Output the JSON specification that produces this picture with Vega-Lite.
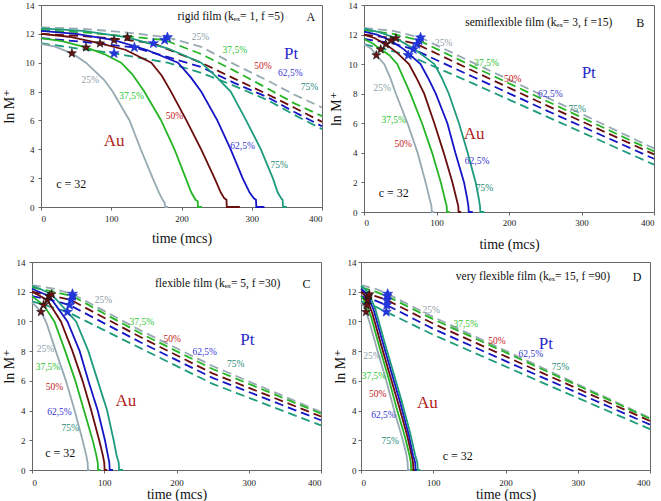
{
"$schema": "https://vega.github.io/schema/vega-lite/v6.json",
"background": "white",
"padding": {"left": 1, "top": 0, "right": 0, "bottom": 0},
"datasets": {
"au": [
{"p":"A","c":"c25","t":0,"v":11.3},{"p":"A","c":"c25","t":20,"v":11.12},{"p":"A","c":"c25","t":44,"v":10.65},{"p":"A","c":"c25","t":64,"v":10.0},{"p":"A","c":"c25","t":90,"v":8.8},{"p":"A","c":"c25","t":102,"v":8.0},{"p":"A","c":"c25","t":126,"v":6.0},{"p":"A","c":"c25","t":142,"v":4.0},{"p":"A","c":"c25","t":159,"v":2.0},{"p":"A","c":"c25","t":168,"v":1.0},{"p":"A","c":"c25","t":173,"v":0.5},{"p":"A","c":"c25","t":176,"v":0.3},{"p":"A","c":"c25","t":176.5,"v":0},{"p":"A","c":"c25","t":181,"v":0},
{"p":"A","c":"c37","t":0,"v":11.7},{"p":"A","c":"c37","t":30,"v":11.5},{"p":"A","c":"c37","t":64,"v":11.06},{"p":"A","c":"c37","t":90,"v":10.6},{"p":"A","c":"c37","t":114,"v":10.0},{"p":"A","c":"c37","t":130,"v":9.2},{"p":"A","c":"c37","t":147,"v":8.0},{"p":"A","c":"c37","t":171,"v":6.0},{"p":"A","c":"c37","t":190,"v":4.0},{"p":"A","c":"c37","t":206,"v":2.0},{"p":"A","c":"c37","t":214,"v":1.0},{"p":"A","c":"c37","t":220,"v":0.5},{"p":"A","c":"c37","t":223,"v":0.4},{"p":"A","c":"c37","t":223.5,"v":0},{"p":"A","c":"c37","t":229,"v":0},
{"p":"A","c":"c50","t":0,"v":12.0},{"p":"A","c":"c50","t":40,"v":11.8},{"p":"A","c":"c50","t":84,"v":11.34},{"p":"A","c":"c50","t":120,"v":10.9},{"p":"A","c":"c50","t":157,"v":10.0},{"p":"A","c":"c50","t":172,"v":9.1},{"p":"A","c":"c50","t":185,"v":8.0},{"p":"A","c":"c50","t":207,"v":6.0},{"p":"A","c":"c50","t":228,"v":4.0},{"p":"A","c":"c50","t":247,"v":2.0},{"p":"A","c":"c50","t":256,"v":1.0},{"p":"A","c":"c50","t":261,"v":0.6},{"p":"A","c":"c50","t":264,"v":0.5},{"p":"A","c":"c50","t":264.5,"v":0},{"p":"A","c":"c50","t":283,"v":0},
{"p":"A","c":"c62","t":0,"v":12.2},{"p":"A","c":"c62","t":50,"v":12.0},{"p":"A","c":"c62","t":104,"v":11.57},{"p":"A","c":"c62","t":150,"v":10.9},{"p":"A","c":"c62","t":195,"v":10.0},{"p":"A","c":"c62","t":213,"v":9.0},{"p":"A","c":"c62","t":228,"v":8.0},{"p":"A","c":"c62","t":251,"v":6.0},{"p":"A","c":"c62","t":270,"v":4.0},{"p":"A","c":"c62","t":287,"v":2.0},{"p":"A","c":"c62","t":297,"v":1.0},{"p":"A","c":"c62","t":303,"v":0.6},{"p":"A","c":"c62","t":306,"v":0.5},{"p":"A","c":"c62","t":306.5,"v":0},{"p":"A","c":"c62","t":318,"v":0},
{"p":"A","c":"c75","t":0,"v":12.38},{"p":"A","c":"c75","t":60,"v":12.2},{"p":"A","c":"c75","t":123,"v":11.76},{"p":"A","c":"c75","t":180,"v":11.0},{"p":"A","c":"c75","t":228,"v":10.0},{"p":"A","c":"c75","t":250,"v":9.0},{"p":"A","c":"c75","t":270,"v":8.0},{"p":"A","c":"c75","t":292,"v":6.0},{"p":"A","c":"c75","t":313,"v":4.0},{"p":"A","c":"c75","t":330,"v":2.0},{"p":"A","c":"c75","t":337,"v":1.0},{"p":"A","c":"c75","t":342,"v":0.6},{"p":"A","c":"c75","t":344,"v":0.5},{"p":"A","c":"c75","t":344.5,"v":0},{"p":"A","c":"c75","t":350,"v":0},
{"p":"B","c":"c25","t":0,"v":11.35},{"p":"B","c":"c25","t":10,"v":11.05},{"p":"B","c":"c25","t":17,"v":10.6},{"p":"B","c":"c25","t":28,"v":10.0},{"p":"B","c":"c25","t":36,"v":9.1},{"p":"B","c":"c25","t":44,"v":8.0},{"p":"B","c":"c25","t":60,"v":6.0},{"p":"B","c":"c25","t":74,"v":4.0},{"p":"B","c":"c25","t":85,"v":2.0},{"p":"B","c":"c25","t":90,"v":1.0},{"p":"B","c":"c25","t":93,"v":0.4},{"p":"B","c":"c25","t":93.5,"v":0},{"p":"B","c":"c25","t":97,"v":0},
{"p":"B","c":"c37","t":0,"v":11.7},{"p":"B","c":"c37","t":12,"v":11.4},{"p":"B","c":"c37","t":23,"v":11.0},{"p":"B","c":"c37","t":35,"v":10.6},{"p":"B","c":"c37","t":46,"v":10.0},{"p":"B","c":"c37","t":55,"v":9.0},{"p":"B","c":"c37","t":64,"v":8.0},{"p":"B","c":"c37","t":80,"v":6.0},{"p":"B","c":"c37","t":94,"v":4.0},{"p":"B","c":"c37","t":106,"v":2.0},{"p":"B","c":"c37","t":111,"v":1.0},{"p":"B","c":"c37","t":114,"v":0.4},{"p":"B","c":"c37","t":114.5,"v":0},{"p":"B","c":"c37","t":118,"v":0},
{"p":"B","c":"c50","t":0,"v":12.0},{"p":"B","c":"c50","t":15,"v":11.75},{"p":"B","c":"c50","t":30,"v":11.35},{"p":"B","c":"c50","t":45,"v":10.8},{"p":"B","c":"c50","t":62,"v":10.0},{"p":"B","c":"c50","t":72,"v":9.1},{"p":"B","c":"c50","t":83,"v":8.0},{"p":"B","c":"c50","t":97,"v":6.0},{"p":"B","c":"c50","t":110,"v":4.0},{"p":"B","c":"c50","t":122,"v":2.0},{"p":"B","c":"c50","t":127,"v":1.0},{"p":"B","c":"c50","t":130,"v":0.4},{"p":"B","c":"c50","t":130.5,"v":0},{"p":"B","c":"c50","t":134,"v":0},
{"p":"B","c":"c62","t":0,"v":12.2},{"p":"B","c":"c62","t":18,"v":12.0},{"p":"B","c":"c62","t":37,"v":11.6},{"p":"B","c":"c62","t":55,"v":11.0},{"p":"B","c":"c62","t":78,"v":10.0},{"p":"B","c":"c62","t":88,"v":9.1},{"p":"B","c":"c62","t":99,"v":8.0},{"p":"B","c":"c62","t":115,"v":6.0},{"p":"B","c":"c62","t":126,"v":4.0},{"p":"B","c":"c62","t":138,"v":2.0},{"p":"B","c":"c62","t":142,"v":1.0},{"p":"B","c":"c62","t":144,"v":0.4},{"p":"B","c":"c62","t":144.5,"v":0},{"p":"B","c":"c62","t":150,"v":0},
{"p":"B","c":"c75","t":0,"v":12.4},{"p":"B","c":"c75","t":22,"v":12.15},{"p":"B","c":"c75","t":44,"v":11.75},{"p":"B","c":"c75","t":70,"v":11.0},{"p":"B","c":"c75","t":97,"v":10.0},{"p":"B","c":"c75","t":107,"v":9.1},{"p":"B","c":"c75","t":117,"v":8.0},{"p":"B","c":"c75","t":131,"v":6.0},{"p":"B","c":"c75","t":143,"v":4.0},{"p":"B","c":"c75","t":154,"v":2.0},{"p":"B","c":"c75","t":158,"v":1.0},{"p":"B","c":"c75","t":160,"v":0.4},{"p":"B","c":"c75","t":160.5,"v":0},{"p":"B","c":"c75","t":166,"v":0},
{"p":"C","c":"c25","t":0,"v":11.27},{"p":"C","c":"c25","t":6,"v":11.0},{"p":"C","c":"c25","t":12.5,"v":10.64},{"p":"C","c":"c25","t":20,"v":9.9},{"p":"C","c":"c25","t":33,"v":8.0},{"p":"C","c":"c25","t":47,"v":6.0},{"p":"C","c":"c25","t":59,"v":4.0},{"p":"C","c":"c25","t":70,"v":2.0},{"p":"C","c":"c25","t":75,"v":1.0},{"p":"C","c":"c25","t":77,"v":0.5},{"p":"C","c":"c25","t":77.5,"v":0},{"p":"C","c":"c25","t":80,"v":0},
{"p":"C","c":"c37","t":0,"v":11.7},{"p":"C","c":"c37","t":8,"v":11.4},{"p":"C","c":"c37","t":16,"v":11.1},{"p":"C","c":"c37","t":31,"v":10.0},{"p":"C","c":"c37","t":46,"v":8.0},{"p":"C","c":"c37","t":60,"v":6.0},{"p":"C","c":"c37","t":72,"v":4.0},{"p":"C","c":"c37","t":84,"v":2.0},{"p":"C","c":"c37","t":89,"v":1.0},{"p":"C","c":"c37","t":91,"v":0.5},{"p":"C","c":"c37","t":91.5,"v":0},{"p":"C","c":"c37","t":95,"v":0},
{"p":"C","c":"c50","t":0,"v":12.0},{"p":"C","c":"c50","t":10,"v":11.75},{"p":"C","c":"c50","t":21,"v":11.44},{"p":"C","c":"c50","t":40,"v":10.0},{"p":"C","c":"c50","t":56,"v":8.0},{"p":"C","c":"c50","t":70,"v":6.0},{"p":"C","c":"c50","t":82,"v":4.0},{"p":"C","c":"c50","t":93,"v":2.0},{"p":"C","c":"c50","t":98,"v":1.0},{"p":"C","c":"c50","t":100,"v":0.5},{"p":"C","c":"c50","t":100.5,"v":0},{"p":"C","c":"c50","t":104,"v":0},
{"p":"C","c":"c62","t":0,"v":12.2},{"p":"C","c":"c62","t":12,"v":11.95},{"p":"C","c":"c62","t":24,"v":11.7},{"p":"C","c":"c62","t":49,"v":10.0},{"p":"C","c":"c62","t":66,"v":8.0},{"p":"C","c":"c62","t":78,"v":6.0},{"p":"C","c":"c62","t":91,"v":4.0},{"p":"C","c":"c62","t":101,"v":2.0},{"p":"C","c":"c62","t":105,"v":1.0},{"p":"C","c":"c62","t":107,"v":0.5},{"p":"C","c":"c62","t":107.5,"v":0},{"p":"C","c":"c62","t":112,"v":0},
{"p":"C","c":"c75","t":0,"v":12.4},{"p":"C","c":"c75","t":13,"v":12.15},{"p":"C","c":"c75","t":27,"v":11.83},{"p":"C","c":"c75","t":61,"v":10.0},{"p":"C","c":"c75","t":78,"v":8.0},{"p":"C","c":"c75","t":91,"v":6.0},{"p":"C","c":"c75","t":104,"v":4.0},{"p":"C","c":"c75","t":113,"v":2.0},{"p":"C","c":"c75","t":117,"v":1.0},{"p":"C","c":"c75","t":120,"v":0.5},{"p":"C","c":"c75","t":120.5,"v":0},{"p":"C","c":"c75","t":126,"v":0},
{"p":"D","c":"c25","t":0,"v":11.27},{"p":"D","c":"c25","t":4,"v":11.0},{"p":"D","c":"c25","t":7,"v":10.64},{"p":"D","c":"c25","t":11.5,"v":10.0},{"p":"D","c":"c25","t":23,"v":8.0},{"p":"D","c":"c25","t":35,"v":6.0},{"p":"D","c":"c25","t":46,"v":4.0},{"p":"D","c":"c25","t":58,"v":2.0},{"p":"D","c":"c25","t":63,"v":1.0},{"p":"D","c":"c25","t":64.5,"v":0.5},{"p":"D","c":"c25","t":65,"v":0},{"p":"D","c":"c25","t":68,"v":0},
{"p":"D","c":"c37","t":0,"v":11.7},{"p":"D","c":"c37","t":5,"v":11.4},{"p":"D","c":"c37","t":8,"v":11.1},{"p":"D","c":"c37","t":14,"v":10.3},{"p":"D","c":"c37","t":26,"v":8.2},{"p":"D","c":"c37","t":38,"v":6.2},{"p":"D","c":"c37","t":49,"v":4.2},{"p":"D","c":"c37","t":61,"v":2.2},{"p":"D","c":"c37","t":67,"v":1.0},{"p":"D","c":"c37","t":69,"v":0.5},{"p":"D","c":"c37","t":69.5,"v":0},{"p":"D","c":"c37","t":72,"v":0},
{"p":"D","c":"c50","t":0,"v":12.0},{"p":"D","c":"c50","t":6,"v":11.7},{"p":"D","c":"c50","t":9,"v":11.44},{"p":"D","c":"c50","t":16,"v":10.5},{"p":"D","c":"c50","t":28,"v":8.4},{"p":"D","c":"c50","t":40,"v":6.4},{"p":"D","c":"c50","t":52,"v":4.4},{"p":"D","c":"c50","t":64,"v":2.3},{"p":"D","c":"c50","t":70,"v":1.0},{"p":"D","c":"c50","t":72,"v":0.5},{"p":"D","c":"c50","t":72.5,"v":0},{"p":"D","c":"c50","t":75,"v":0},
{"p":"D","c":"c62","t":0,"v":12.2},{"p":"D","c":"c62","t":7,"v":11.9},{"p":"D","c":"c62","t":10,"v":11.7},{"p":"D","c":"c62","t":18,"v":10.7},{"p":"D","c":"c62","t":30,"v":8.6},{"p":"D","c":"c62","t":42,"v":6.6},{"p":"D","c":"c62","t":54,"v":4.6},{"p":"D","c":"c62","t":66,"v":2.4},{"p":"D","c":"c62","t":72,"v":1.0},{"p":"D","c":"c62","t":75,"v":0.5},{"p":"D","c":"c62","t":75.5,"v":0},{"p":"D","c":"c62","t":78,"v":0},
{"p":"D","c":"c75","t":0,"v":12.4},{"p":"D","c":"c75","t":7,"v":12.1},{"p":"D","c":"c75","t":11.5,"v":11.83},{"p":"D","c":"c75","t":20,"v":10.8},{"p":"D","c":"c75","t":32,"v":8.7},{"p":"D","c":"c75","t":44,"v":6.7},{"p":"D","c":"c75","t":56,"v":4.7},{"p":"D","c":"c75","t":68,"v":2.5},{"p":"D","c":"c75","t":75,"v":1.0},{"p":"D","c":"c75","t":78,"v":0.5},{"p":"D","c":"c75","t":78.5,"v":0},{"p":"D","c":"c75","t":82,"v":0}
],
"pt": [
{"p":"A","c":"c25","t":0,"v":12.45},{"p":"A","c":"c25","t":60,"v":12.35},{"p":"A","c":"c25","t":120,"v":12.1},{"p":"A","c":"c25","t":180,"v":11.76},{"p":"A","c":"c25","t":228,"v":11.1},{"p":"A","c":"c25","t":275,"v":9.9},{"p":"A","c":"c25","t":323,"v":8.75},{"p":"A","c":"c25","t":360,"v":7.8},{"p":"A","c":"c25","t":400,"v":6.9},
{"p":"A","c":"c37","t":0,"v":12.27},{"p":"A","c":"c37","t":60,"v":12.1},{"p":"A","c":"c37","t":120,"v":11.85},{"p":"A","c":"c37","t":176,"v":11.57},{"p":"A","c":"c37","t":228,"v":10.6},{"p":"A","c":"c37","t":275,"v":9.45},{"p":"A","c":"c37","t":323,"v":8.2},{"p":"A","c":"c37","t":360,"v":7.2},{"p":"A","c":"c37","t":400,"v":6.3},
{"p":"A","c":"c50","t":0,"v":12.0},{"p":"A","c":"c50","t":60,"v":11.85},{"p":"A","c":"c50","t":120,"v":11.6},{"p":"A","c":"c50","t":160,"v":11.34},{"p":"A","c":"c50","t":228,"v":10.0},{"p":"A","c":"c50","t":275,"v":8.9},{"p":"A","c":"c50","t":323,"v":7.8},{"p":"A","c":"c50","t":360,"v":6.9},{"p":"A","c":"c50","t":400,"v":5.9},
{"p":"A","c":"c62","t":0,"v":11.7},{"p":"A","c":"c62","t":60,"v":11.45},{"p":"A","c":"c62","t":133,"v":11.06},{"p":"A","c":"c62","t":180,"v":10.4},{"p":"A","c":"c62","t":228,"v":9.7},{"p":"A","c":"c62","t":275,"v":8.6},{"p":"A","c":"c62","t":323,"v":7.6},{"p":"A","c":"c62","t":360,"v":6.6},{"p":"A","c":"c62","t":400,"v":5.6},
{"p":"A","c":"c75","t":0,"v":11.35},{"p":"A","c":"c75","t":50,"v":11.0},{"p":"A","c":"c75","t":104,"v":10.65},{"p":"A","c":"c75","t":180,"v":10.0},{"p":"A","c":"c75","t":228,"v":9.3},{"p":"A","c":"c75","t":275,"v":8.4},{"p":"A","c":"c75","t":323,"v":7.4},{"p":"A","c":"c75","t":360,"v":6.4},{"p":"A","c":"c75","t":400,"v":5.4},
{"p":"B","c":"c25","t":0,"v":12.45},{"p":"B","c":"c25","t":40,"v":12.25},{"p":"B","c":"c25","t":78,"v":11.8},{"p":"B","c":"c25","t":150,"v":10.1},{"p":"B","c":"c25","t":250,"v":7.8},{"p":"B","c":"c25","t":400,"v":4.3},
{"p":"B","c":"c37","t":0,"v":12.3},{"p":"B","c":"c37","t":40,"v":12.05},{"p":"B","c":"c37","t":76,"v":11.6},{"p":"B","c":"c37","t":150,"v":9.85},{"p":"B","c":"c37","t":250,"v":7.55},{"p":"B","c":"c37","t":400,"v":4.1},
{"p":"B","c":"c50","t":0,"v":12.0},{"p":"B","c":"c50","t":40,"v":11.75},{"p":"B","c":"c50","t":73,"v":11.35},{"p":"B","c":"c50","t":150,"v":9.55},{"p":"B","c":"c50","t":250,"v":7.25},{"p":"B","c":"c50","t":400,"v":3.9},
{"p":"B","c":"c62","t":0,"v":11.7},{"p":"B","c":"c62","t":40,"v":11.4},{"p":"B","c":"c62","t":68,"v":11.0},{"p":"B","c":"c62","t":150,"v":9.15},{"p":"B","c":"c62","t":250,"v":6.9},{"p":"B","c":"c62","t":400,"v":3.6},
{"p":"B","c":"c75","t":0,"v":11.35},{"p":"B","c":"c75","t":30,"v":11.0},{"p":"B","c":"c75","t":61,"v":10.6},{"p":"B","c":"c75","t":150,"v":8.7},{"p":"B","c":"c75","t":250,"v":6.5},{"p":"B","c":"c75","t":400,"v":3.2},
{"p":"C","c":"c25","t":0,"v":12.45},{"p":"C","c":"c25","t":30,"v":12.2},{"p":"C","c":"c25","t":56,"v":11.85},{"p":"C","c":"c25","t":150,"v":9.4},{"p":"C","c":"c25","t":250,"v":7.0},{"p":"C","c":"c25","t":400,"v":3.9},
{"p":"C","c":"c37","t":0,"v":12.3},{"p":"C","c":"c37","t":30,"v":12.0},{"p":"C","c":"c37","t":56,"v":11.7},{"p":"C","c":"c37","t":150,"v":9.2},{"p":"C","c":"c37","t":250,"v":6.8},{"p":"C","c":"c37","t":400,"v":3.8},
{"p":"C","c":"c50","t":0,"v":12.0},{"p":"C","c":"c50","t":30,"v":11.7},{"p":"C","c":"c50","t":54,"v":11.44},{"p":"C","c":"c50","t":150,"v":8.95},{"p":"C","c":"c50","t":250,"v":6.5},{"p":"C","c":"c50","t":400,"v":3.6},
{"p":"C","c":"c62","t":0,"v":11.7},{"p":"C","c":"c62","t":30,"v":11.4},{"p":"C","c":"c62","t":52,"v":11.1},{"p":"C","c":"c62","t":150,"v":8.6},{"p":"C","c":"c62","t":250,"v":6.2},{"p":"C","c":"c62","t":400,"v":3.35},
{"p":"C","c":"c75","t":0,"v":11.35},{"p":"C","c":"c75","t":25,"v":11.0},{"p":"C","c":"c75","t":49,"v":10.64},{"p":"C","c":"c75","t":150,"v":8.2},{"p":"C","c":"c75","t":250,"v":5.8},{"p":"C","c":"c75","t":400,"v":3.0},
{"p":"D","c":"c25","t":0,"v":12.45},{"p":"D","c":"c25","t":20,"v":12.2},{"p":"D","c":"c25","t":37,"v":11.85},{"p":"D","c":"c25","t":100,"v":10.3},{"p":"D","c":"c25","t":250,"v":6.9},{"p":"D","c":"c25","t":400,"v":3.5},
{"p":"D","c":"c37","t":0,"v":12.3},{"p":"D","c":"c37","t":20,"v":12.0},{"p":"D","c":"c37","t":36,"v":11.7},{"p":"D","c":"c37","t":100,"v":10.15},{"p":"D","c":"c37","t":250,"v":6.8},{"p":"D","c":"c37","t":400,"v":3.45},
{"p":"D","c":"c50","t":0,"v":12.0},{"p":"D","c":"c50","t":20,"v":11.7},{"p":"D","c":"c50","t":36,"v":11.44},{"p":"D","c":"c50","t":100,"v":9.85},{"p":"D","c":"c50","t":250,"v":6.55},{"p":"D","c":"c50","t":400,"v":3.3},
{"p":"D","c":"c62","t":0,"v":11.7},{"p":"D","c":"c62","t":20,"v":11.4},{"p":"D","c":"c62","t":35.5,"v":11.1},{"p":"D","c":"c62","t":100,"v":9.5},{"p":"D","c":"c62","t":250,"v":6.25},{"p":"D","c":"c62","t":400,"v":3.05},
{"p":"D","c":"c75","t":0,"v":11.35},{"p":"D","c":"c75","t":20,"v":11.0},{"p":"D","c":"c75","t":35,"v":10.64},{"p":"D","c":"c75","t":100,"v":9.1},{"p":"D","c":"c75","t":250,"v":5.9},{"p":"D","c":"c75","t":400,"v":2.75}
],
"st": [
{"p":"A","m":"Au","t":44,"v":10.65},{"p":"A","m":"Au","t":64,"v":11.06},{"p":"A","m":"Au","t":84,"v":11.34},{"p":"A","m":"Au","t":104,"v":11.57},{"p":"A","m":"Au","t":123,"v":11.76},
{"p":"A","m":"Pt","t":104,"v":10.65},{"p":"A","m":"Pt","t":133,"v":11.06},{"p":"A","m":"Pt","t":160,"v":11.34},{"p":"A","m":"Pt","t":176,"v":11.57},{"p":"A","m":"Pt","t":180,"v":11.76},
{"p":"B","m":"Au","t":17,"v":10.6},{"p":"B","m":"Au","t":23,"v":11.0},{"p":"B","m":"Au","t":30,"v":11.35},{"p":"B","m":"Au","t":37,"v":11.6},{"p":"B","m":"Au","t":44,"v":11.75},
{"p":"B","m":"Pt","t":61,"v":10.6},{"p":"B","m":"Pt","t":68,"v":11.0},{"p":"B","m":"Pt","t":73,"v":11.35},{"p":"B","m":"Pt","t":76,"v":11.6},{"p":"B","m":"Pt","t":78,"v":11.8},
{"p":"C","m":"Au","t":12.5,"v":10.64},{"p":"C","m":"Au","t":16,"v":11.1},{"p":"C","m":"Au","t":21,"v":11.44},{"p":"C","m":"Au","t":24,"v":11.7},{"p":"C","m":"Au","t":27,"v":11.83},
{"p":"C","m":"Pt","t":49,"v":10.64},{"p":"C","m":"Pt","t":52,"v":11.1},{"p":"C","m":"Pt","t":54,"v":11.44},{"p":"C","m":"Pt","t":56,"v":11.7},{"p":"C","m":"Pt","t":56,"v":11.85},
{"p":"D","m":"Au","t":7,"v":10.64},{"p":"D","m":"Au","t":8,"v":11.1},{"p":"D","m":"Au","t":9,"v":11.44},{"p":"D","m":"Au","t":10,"v":11.7},{"p":"D","m":"Au","t":11.5,"v":11.83},
{"p":"D","m":"Pt","t":35,"v":10.64},{"p":"D","m":"Pt","t":35.5,"v":11.1},{"p":"D","m":"Pt","t":36,"v":11.44},{"p":"D","m":"Pt","t":36,"v":11.7},{"p":"D","m":"Pt","t":37,"v":11.85}
],
"lb": [
{"p":"A","s":"l25","t":70,"v":8.8,"txt":"25%"},{"p":"A","s":"l37","t":129,"v":7.7,"txt":"37,5%"},{"p":"A","s":"l50","t":190,"v":6.3,"txt":"50%"},{"p":"A","s":"l62","t":287,"v":4.2,"txt":"62,5%"},{"p":"A","s":"l75","t":339,"v":2.9,"txt":"75%"},
{"p":"A","s":"l25","t":227,"v":11.8,"txt":"25%"},{"p":"A","s":"l37","t":276,"v":10.9,"txt":"37,5%"},{"p":"A","s":"l50","t":316,"v":9.8,"txt":"50%"},{"p":"A","s":"l62","t":355,"v":9.26,"txt":"62,5%"},{"p":"A","s":"l75","t":382,"v":8.3,"txt":"75%"},
{"p":"B","s":"l25","t":25,"v":8.37,"txt":"25%"},{"p":"B","s":"l37","t":41,"v":6.23,"txt":"37,5%"},{"p":"B","s":"l50","t":54,"v":4.63,"txt":"50%"},{"p":"B","s":"l62","t":156,"v":3.45,"txt":"62,5%"},{"p":"B","s":"l75","t":166,"v":1.65,"txt":"75%"},
{"p":"B","s":"l25","t":110,"v":11.4,"txt":"25%"},{"p":"B","s":"l37","t":169,"v":10.1,"txt":"37,5%"},{"p":"B","s":"l50","t":205,"v":8.98,"txt":"50%"},{"p":"B","s":"l62","t":257,"v":7.97,"txt":"62,5%"},{"p":"B","s":"l75","t":294,"v":7.0,"txt":"75%"},
{"p":"C","s":"l25","t":18.5,"v":8.13,"txt":"25%"},{"p":"C","s":"l37","t":22,"v":6.9,"txt":"37,5%"},{"p":"C","s":"l50","t":31,"v":5.56,"txt":"50%"},{"p":"C","s":"l62","t":38,"v":3.92,"txt":"62,5%"},{"p":"C","s":"l75","t":53,"v":2.8,"txt":"75%"},
{"p":"C","s":"l25","t":99,"v":11.42,"txt":"25%"},{"p":"C","s":"l37","t":152,"v":9.97,"txt":"37,5%"},{"p":"C","s":"l50","t":194,"v":8.85,"txt":"50%"},{"p":"C","s":"l62","t":239,"v":7.95,"txt":"62,5%"},{"p":"C","s":"l75","t":282,"v":7.12,"txt":"75%"},
{"p":"D","s":"l25","t":15,"v":7.66,"txt":"25%"},{"p":"D","s":"l37","t":18,"v":6.3,"txt":"37,5%"},{"p":"D","s":"l50","t":23,"v":5.1,"txt":"50%"},{"p":"D","s":"l62","t":31,"v":3.7,"txt":"62,5%"},{"p":"D","s":"l75","t":40.5,"v":1.97,"txt":"75%"},
{"p":"D","s":"l25","t":97,"v":10.75,"txt":"25%"},{"p":"D","s":"l37","t":145,"v":9.8,"txt":"37,5%"},{"p":"D","s":"l50","t":188,"v":8.7,"txt":"50%"},{"p":"D","s":"l62","t":235,"v":7.8,"txt":"62,5%"},{"p":"D","s":"l75","t":276,"v":6.9,"txt":"75%"}
],
"tx": [
{"p":"A","k":"title","t":270,"v":13.15,"txt":"rigid film (kₑₓ= 1, f =5)"},{"p":"A","k":"letter","t":384,"v":13.15,"txt":"A"},{"p":"A","k":"au","t":104,"v":4.6,"txt":"Au"},{"p":"A","k":"pt","t":356,"v":10.6,"txt":"Pt"},{"p":"A","k":"c","t":43,"v":1.57,"txt":"c = 32"},
{"p":"B","k":"title","t":241,"v":12.75,"txt":"semiflexible film (kₑₓ= 3, f =15)"},{"p":"B","k":"letter","t":381,"v":12.75,"txt":"B"},{"p":"B","k":"au","t":152,"v":5.26,"txt":"Au"},{"p":"B","k":"pt","t":310,"v":9.37,"txt":"Pt"},{"p":"B","k":"c","t":41,"v":1.3,"txt":"c = 32"},
{"p":"C","k":"title","t":257,"v":12.5,"txt":"flexible film (kₑₓ= 5, f =30)"},{"p":"C","k":"letter","t":380,"v":12.5,"txt":"C"},{"p":"C","k":"au","t":130,"v":4.66,"txt":"Au"},{"p":"C","k":"pt","t":298,"v":8.78,"txt":"Pt"},{"p":"C","k":"c","t":39,"v":1.16,"txt":"c = 32"},
{"p":"D","k":"title","t":238,"v":13.0,"txt":"very flexible film (kₑₓ= 15, f =90)"},{"p":"D","k":"letter","t":382,"v":13.0,"txt":"D"},{"p":"D","k":"au","t":92,"v":4.5,"txt":"Au"},{"p":"D","k":"pt","t":256,"v":8.47,"txt":"Pt"},{"p":"D","k":"c","t":134,"v":0.94,"txt":"c = 32"}
]
},
"vconcat": [
{"hconcat": [
{"width": 1, "height": 1, "data": {"values": [{"a": 1}]}, "mark": {"type": "point", "opacity": 0}, "view": {"stroke": "transparent"}},
{"hconcat": [
{"width": 281, "height": 202,
 "encoding": {
  "x": {"field": "t", "type": "quantitative", "title": "time (mcs)", "scale": {"domain": [0, 400], "nice": false}, "axis": {"values": [0,100,200,300,400], "labelPadding": 4, "titlePadding": 8}},
  "y": {"field": "v", "type": "quantitative", "title": "ln M⁺", "scale": {"domain": [0, 14], "nice": false}, "axis": {"values": [0,2,4,6,8,10,12,14], "labelPadding": 4, "titlePadding": 9}}
 },
 "layer": [
  {"data": {"name": "pt"}, "transform": [{"filter": "datum.p==='A'"}], "mark": {"type": "line", "strokeWidth": 1.8, "strokeDash": [9, 5]},
   "encoding": {"color": {"field": "c", "type": "nominal", "legend": null, "scale": {"domain": ["c25","c37","c50","c62","c75","l25","l37","l50","l62","l75"], "range": ["#97a9b2","#25b525","#6a0d0d","#1515c5","#1e9b7d","#8e9ea8","#2ec42e","#c41a1a","#3535cf","#1d8a76"]}}}},
  {"data": {"name": "au"}, "transform": [{"filter": "datum.p==='A'"}], "mark": {"type": "line", "strokeWidth": 1.8},
   "encoding": {"color": {"field": "c", "type": "nominal", "legend": null, "scale": {"domain": ["c25","c37","c50","c62","c75","l25","l37","l50","l62","l75"], "range": ["#97a9b2","#25b525","#6a0d0d","#1515c5","#1e9b7d","#8e9ea8","#2ec42e","#c41a1a","#3535cf","#1d8a76"]}}}},
  {"data": {"name": "st"}, "transform": [{"filter": "datum.p==='A' && datum.m==='Au'"}], "mark": {"type": "point", "shape": "M0,-1L0.235,-0.324L0.951,-0.309L0.38,0.124L0.588,0.809L0,0.4L-0.588,0.809L-0.38,0.124L-0.951,-0.309L-0.235,-0.324Z", "filled": true, "fill": "#6a1414", "stroke": "#111", "strokeWidth": 0.6, "size": 90, "opacity": 1}},
  {"data": {"name": "st"}, "transform": [{"filter": "datum.p==='A' && datum.m==='Pt'"}], "mark": {"type": "point", "shape": "M0,-1L0.235,-0.324L0.951,-0.309L0.38,0.124L0.588,0.809L0,0.4L-0.588,0.809L-0.38,0.124L-0.951,-0.309L-0.235,-0.324Z", "filled": true, "fill": "#2238dd", "stroke": "#1a2acc", "strokeWidth": 0.6, "size": 110, "opacity": 1}},
  {"data": {"name": "lb"}, "transform": [{"filter": "datum.p==='A'"}], "mark": {"type": "text", "fontSize": 9.5},
   "encoding": {"text": {"field": "txt"}, "color": {"field": "s", "type": "nominal", "legend": null, "scale": {"domain": ["c25","c37","c50","c62","c75","l25","l37","l50","l62","l75"], "range": ["#97a9b2","#25b525","#6a0d0d","#1515c5","#1e9b7d","#8e9ea8","#2ec42e","#c41a1a","#3535cf","#1d8a76"]}}}},
  {"data": {"name": "tx"}, "transform": [{"filter": "datum.p==='A' && datum.k==='title'"}], "mark": {"type": "text", "fontSize": 11.5, "color": "#111"}, "encoding": {"text": {"field": "txt"}}},
  {"data": {"name": "tx"}, "transform": [{"filter": "datum.p==='A' && (datum.k==='letter' || datum.k==='c')"}], "mark": {"type": "text", "fontSize": 12, "color": "#111"}, "encoding": {"text": {"field": "txt"}}},
  {"data": {"name": "tx"}, "transform": [{"filter": "datum.p==='A' && datum.k==='au'"}], "mark": {"type": "text", "fontSize": 17, "color": "#b0241c"}, "encoding": {"text": {"field": "txt"}}},
  {"data": {"name": "tx"}, "transform": [{"filter": "datum.p==='A' && datum.k==='pt'"}], "mark": {"type": "text", "fontSize": 17, "color": "#2a2acb"}, "encoding": {"text": {"field": "txt"}}}
 ]},
{"width": 290, "height": 207,
 "encoding": {
  "x": {"field": "t", "type": "quantitative", "title": "time (mcs)", "scale": {"domain": [0, 400], "nice": false}, "axis": {"values": [0,100,200,300,400], "labelPadding": 3, "titlePadding": 10}},
  "y": {"field": "v", "type": "quantitative", "title": "ln M⁺", "scale": {"domain": [0, 14], "nice": false}, "axis": {"values": [0,2,4,6,8,10,12,14], "labelPadding": 4, "titlePadding": 5}}
 },
 "layer": [
  {"data": {"name": "pt"}, "transform": [{"filter": "datum.p==='B'"}], "mark": {"type": "line", "strokeWidth": 1.8, "strokeDash": [9, 5]},
   "encoding": {"color": {"field": "c", "type": "nominal", "legend": null, "scale": {"domain": ["c25","c37","c50","c62","c75","l25","l37","l50","l62","l75"], "range": ["#97a9b2","#25b525","#6a0d0d","#1515c5","#1e9b7d","#8e9ea8","#2ec42e","#c41a1a","#3535cf","#1d8a76"]}}}},
  {"data": {"name": "au"}, "transform": [{"filter": "datum.p==='B'"}], "mark": {"type": "line", "strokeWidth": 1.8},
   "encoding": {"color": {"field": "c", "type": "nominal", "legend": null, "scale": {"domain": ["c25","c37","c50","c62","c75","l25","l37","l50","l62","l75"], "range": ["#97a9b2","#25b525","#6a0d0d","#1515c5","#1e9b7d","#8e9ea8","#2ec42e","#c41a1a","#3535cf","#1d8a76"]}}}},
  {"data": {"name": "st"}, "transform": [{"filter": "datum.p==='B' && datum.m==='Au'"}], "mark": {"type": "point", "shape": "M0,-1L0.235,-0.324L0.951,-0.309L0.38,0.124L0.588,0.809L0,0.4L-0.588,0.809L-0.38,0.124L-0.951,-0.309L-0.235,-0.324Z", "filled": true, "fill": "#6a1414", "stroke": "#111", "strokeWidth": 0.6, "size": 90, "opacity": 1}},
  {"data": {"name": "st"}, "transform": [{"filter": "datum.p==='B' && datum.m==='Pt'"}], "mark": {"type": "point", "shape": "M0,-1L0.235,-0.324L0.951,-0.309L0.38,0.124L0.588,0.809L0,0.4L-0.588,0.809L-0.38,0.124L-0.951,-0.309L-0.235,-0.324Z", "filled": true, "fill": "#2238dd", "stroke": "#1a2acc", "strokeWidth": 0.6, "size": 110, "opacity": 1}},
  {"data": {"name": "lb"}, "transform": [{"filter": "datum.p==='B'"}], "mark": {"type": "text", "fontSize": 9.5},
   "encoding": {"text": {"field": "txt"}, "color": {"field": "s", "type": "nominal", "legend": null, "scale": {"domain": ["c25","c37","c50","c62","c75","l25","l37","l50","l62","l75"], "range": ["#97a9b2","#25b525","#6a0d0d","#1515c5","#1e9b7d","#8e9ea8","#2ec42e","#c41a1a","#3535cf","#1d8a76"]}}}},
  {"data": {"name": "tx"}, "transform": [{"filter": "datum.p==='B' && datum.k==='title'"}], "mark": {"type": "text", "fontSize": 11.5, "color": "#111"}, "encoding": {"text": {"field": "txt"}}},
  {"data": {"name": "tx"}, "transform": [{"filter": "datum.p==='B' && (datum.k==='letter' || datum.k==='c')"}], "mark": {"type": "text", "fontSize": 12, "color": "#111"}, "encoding": {"text": {"field": "txt"}}},
  {"data": {"name": "tx"}, "transform": [{"filter": "datum.p==='B' && datum.k==='au'"}], "mark": {"type": "text", "fontSize": 17, "color": "#b0241c"}, "encoding": {"text": {"field": "txt"}}},
  {"data": {"name": "tx"}, "transform": [{"filter": "datum.p==='B' && datum.k==='pt'"}], "mark": {"type": "text", "fontSize": 17, "color": "#2a2acb"}, "encoding": {"text": {"field": "txt"}}}
 ]}
], "spacing": 42, "bounds": "flush"}
], "spacing": 8, "bounds": "flush"},
{"hconcat": [
{"width": 289, "height": 208,
 "encoding": {
  "x": {"field": "t", "type": "quantitative", "title": "time (mcs)", "scale": {"domain": [0, 400], "nice": false}, "axis": {"values": [0,100,200,300,400], "labelPadding": 5, "titlePadding": 0}},
  "y": {"field": "v", "type": "quantitative", "title": "ln M⁺", "scale": {"domain": [0, 14], "nice": false}, "axis": {"values": [0,2,4,6,8,10,12,14], "labelPadding": 4, "titlePadding": 0}}
 },
 "layer": [
  {"data": {"name": "pt"}, "transform": [{"filter": "datum.p==='C'"}], "mark": {"type": "line", "strokeWidth": 1.8, "strokeDash": [9, 5]},
   "encoding": {"color": {"field": "c", "type": "nominal", "legend": null, "scale": {"domain": ["c25","c37","c50","c62","c75","l25","l37","l50","l62","l75"], "range": ["#97a9b2","#25b525","#6a0d0d","#1515c5","#1e9b7d","#8e9ea8","#2ec42e","#c41a1a","#3535cf","#1d8a76"]}}}},
  {"data": {"name": "au"}, "transform": [{"filter": "datum.p==='C'"}], "mark": {"type": "line", "strokeWidth": 1.8},
   "encoding": {"color": {"field": "c", "type": "nominal", "legend": null, "scale": {"domain": ["c25","c37","c50","c62","c75","l25","l37","l50","l62","l75"], "range": ["#97a9b2","#25b525","#6a0d0d","#1515c5","#1e9b7d","#8e9ea8","#2ec42e","#c41a1a","#3535cf","#1d8a76"]}}}},
  {"data": {"name": "st"}, "transform": [{"filter": "datum.p==='C' && datum.m==='Au'"}], "mark": {"type": "point", "shape": "M0,-1L0.235,-0.324L0.951,-0.309L0.38,0.124L0.588,0.809L0,0.4L-0.588,0.809L-0.38,0.124L-0.951,-0.309L-0.235,-0.324Z", "filled": true, "fill": "#6a1414", "stroke": "#111", "strokeWidth": 0.6, "size": 90, "opacity": 1}},
  {"data": {"name": "st"}, "transform": [{"filter": "datum.p==='C' && datum.m==='Pt'"}], "mark": {"type": "point", "shape": "M0,-1L0.235,-0.324L0.951,-0.309L0.38,0.124L0.588,0.809L0,0.4L-0.588,0.809L-0.38,0.124L-0.951,-0.309L-0.235,-0.324Z", "filled": true, "fill": "#2238dd", "stroke": "#1a2acc", "strokeWidth": 0.6, "size": 110, "opacity": 1}},
  {"data": {"name": "lb"}, "transform": [{"filter": "datum.p==='C'"}], "mark": {"type": "text", "fontSize": 9.5},
   "encoding": {"text": {"field": "txt"}, "color": {"field": "s", "type": "nominal", "legend": null, "scale": {"domain": ["c25","c37","c50","c62","c75","l25","l37","l50","l62","l75"], "range": ["#97a9b2","#25b525","#6a0d0d","#1515c5","#1e9b7d","#8e9ea8","#2ec42e","#c41a1a","#3535cf","#1d8a76"]}}}},
  {"data": {"name": "tx"}, "transform": [{"filter": "datum.p==='C' && datum.k==='title'"}], "mark": {"type": "text", "fontSize": 11.5, "color": "#111"}, "encoding": {"text": {"field": "txt"}}},
  {"data": {"name": "tx"}, "transform": [{"filter": "datum.p==='C' && (datum.k==='letter' || datum.k==='c')"}], "mark": {"type": "text", "fontSize": 12, "color": "#111"}, "encoding": {"text": {"field": "txt"}}},
  {"data": {"name": "tx"}, "transform": [{"filter": "datum.p==='C' && datum.k==='au'"}], "mark": {"type": "text", "fontSize": 17, "color": "#b0241c"}, "encoding": {"text": {"field": "txt"}}},
  {"data": {"name": "tx"}, "transform": [{"filter": "datum.p==='C' && datum.k==='pt'"}], "mark": {"type": "text", "fontSize": 17, "color": "#2a2acb"}, "encoding": {"text": {"field": "txt"}}}
 ]},
{"width": 289, "height": 208,
 "encoding": {
  "x": {"field": "t", "type": "quantitative", "title": "time (mcs)", "scale": {"domain": [0, 400], "nice": false}, "axis": {"values": [0,100,200,300,400], "labelPadding": 5, "titlePadding": 0}},
  "y": {"field": "v", "type": "quantitative", "title": "ln M⁺", "scale": {"domain": [0, 14], "nice": false}, "axis": {"values": [0,2,4,6,8,10,12,14], "labelPadding": 2, "titlePadding": 0}}
 },
 "layer": [
  {"data": {"name": "pt"}, "transform": [{"filter": "datum.p==='D'"}], "mark": {"type": "line", "strokeWidth": 1.8, "strokeDash": [9, 5]},
   "encoding": {"color": {"field": "c", "type": "nominal", "legend": null, "scale": {"domain": ["c25","c37","c50","c62","c75","l25","l37","l50","l62","l75"], "range": ["#97a9b2","#25b525","#6a0d0d","#1515c5","#1e9b7d","#8e9ea8","#2ec42e","#c41a1a","#3535cf","#1d8a76"]}}}},
  {"data": {"name": "au"}, "transform": [{"filter": "datum.p==='D'"}], "mark": {"type": "line", "strokeWidth": 1.8},
   "encoding": {"color": {"field": "c", "type": "nominal", "legend": null, "scale": {"domain": ["c25","c37","c50","c62","c75","l25","l37","l50","l62","l75"], "range": ["#97a9b2","#25b525","#6a0d0d","#1515c5","#1e9b7d","#8e9ea8","#2ec42e","#c41a1a","#3535cf","#1d8a76"]}}}},
  {"data": {"name": "st"}, "transform": [{"filter": "datum.p==='D' && datum.m==='Au'"}], "mark": {"type": "point", "shape": "M0,-1L0.235,-0.324L0.951,-0.309L0.38,0.124L0.588,0.809L0,0.4L-0.588,0.809L-0.38,0.124L-0.951,-0.309L-0.235,-0.324Z", "filled": true, "fill": "#6a1414", "stroke": "#111", "strokeWidth": 0.6, "size": 90, "opacity": 1}},
  {"data": {"name": "st"}, "transform": [{"filter": "datum.p==='D' && datum.m==='Pt'"}], "mark": {"type": "point", "shape": "M0,-1L0.235,-0.324L0.951,-0.309L0.38,0.124L0.588,0.809L0,0.4L-0.588,0.809L-0.38,0.124L-0.951,-0.309L-0.235,-0.324Z", "filled": true, "fill": "#2238dd", "stroke": "#1a2acc", "strokeWidth": 0.6, "size": 110, "opacity": 1}},
  {"data": {"name": "lb"}, "transform": [{"filter": "datum.p==='D'"}], "mark": {"type": "text", "fontSize": 9.5},
   "encoding": {"text": {"field": "txt"}, "color": {"field": "s", "type": "nominal", "legend": null, "scale": {"domain": ["c25","c37","c50","c62","c75","l25","l37","l50","l62","l75"], "range": ["#97a9b2","#25b525","#6a0d0d","#1515c5","#1e9b7d","#8e9ea8","#2ec42e","#c41a1a","#3535cf","#1d8a76"]}}}},
  {"data": {"name": "tx"}, "transform": [{"filter": "datum.p==='D' && datum.k==='title'"}], "mark": {"type": "text", "fontSize": 11.5, "color": "#111"}, "encoding": {"text": {"field": "txt"}}},
  {"data": {"name": "tx"}, "transform": [{"filter": "datum.p==='D' && (datum.k==='letter' || datum.k==='c')"}], "mark": {"type": "text", "fontSize": 12, "color": "#111"}, "encoding": {"text": {"field": "txt"}}},
  {"data": {"name": "tx"}, "transform": [{"filter": "datum.p==='D' && datum.k==='au'"}], "mark": {"type": "text", "fontSize": 17, "color": "#b0241c"}, "encoding": {"text": {"field": "txt"}}},
  {"data": {"name": "tx"}, "transform": [{"filter": "datum.p==='D' && datum.k==='pt'"}], "mark": {"type": "text", "fontSize": 17, "color": "#2a2acb"}, "encoding": {"text": {"field": "txt"}}}
 ]}
], "spacing": 40, "bounds": "flush"}
],
"spacing": 5,
"config": {
 "font": "Liberation Serif, DejaVu Serif, serif",
 "view": {"stroke": "#666", "strokeWidth": 1},
 "axis": {"grid": false, "domainColor": "#666", "tickColor": "#666", "tickSize": 3, "labelFont": "Liberation Serif, DejaVu Serif, serif", "labelFontSize": 9, "labelColor": "#222", "titleFont": "Liberation Serif, DejaVu Serif, serif", "titleFontSize": 14, "titleFontWeight": "normal", "titleColor": "#111"},
 "text": {"font": "Liberation Serif, DejaVu Serif, serif"}
}
}
